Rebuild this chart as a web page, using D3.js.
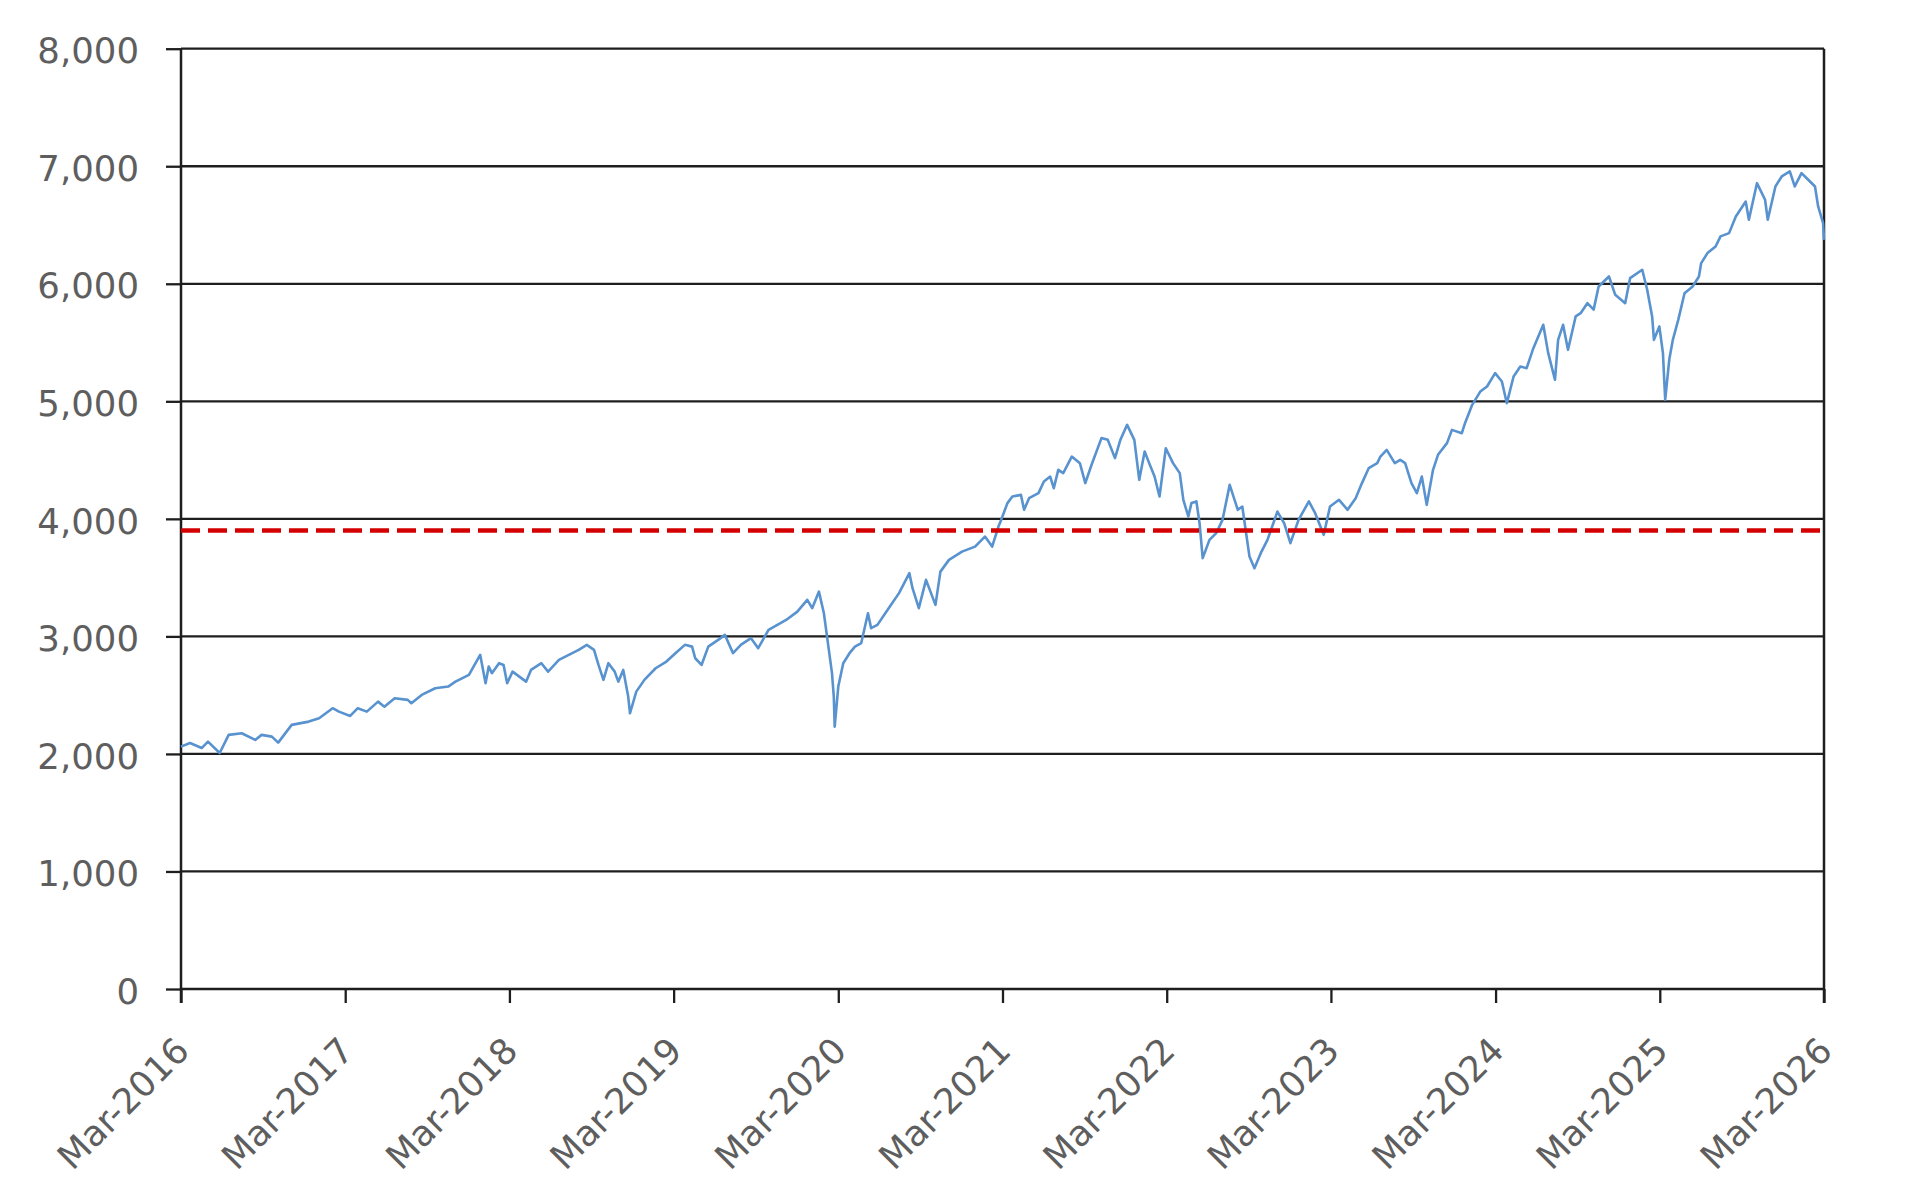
<!DOCTYPE html>
<html>
<head>
<meta charset="utf-8">
<script src="https://cdn.jsdelivr.net/npm/d3@7"></script>
<style>
  html, body { margin: 0; padding: 0; background: #ffffff; }
  svg { display: block; }
</style>
</head>
<body>
<svg id="chart" width="1918" height="1198"></svg>
<script>
// ---------------- DATA ----------------
const dates = [
  "2016-03-01","2016-03-21","2016-04-16","2016-04-30","2016-05-26","2016-06-15","2016-07-14","2016-08-13","2016-08-27","2016-09-19",
  "2016-10-03","2016-11-02","2016-12-10","2017-01-02","2017-02-01","2017-02-15","2017-03-12","2017-03-29","2017-04-18","2017-05-13",
  "2017-05-27","2017-06-19","2017-07-18","2017-07-26","2017-08-18","2017-09-17","2017-10-16","2017-11-01","2017-12-01","2017-12-26",
  "2018-01-07","2018-01-14","2018-01-21","2018-02-06","2018-02-16","2018-02-24","2018-03-08","2018-03-23","2018-04-07","2018-04-18",
  "2018-05-11","2018-05-26","2018-06-19","2018-07-11","2018-08-02","2018-08-20","2018-09-05","2018-09-15","2018-09-26","2018-10-07",
  "2018-10-21","2018-10-29","2018-11-09","2018-11-20","2018-11-24","2018-12-08","2018-12-26","2019-01-20","2019-02-13","2019-03-05",
  "2019-03-26","2019-04-11","2019-04-18","2019-05-02","2019-05-17","2019-06-08","2019-06-23","2019-07-11","2019-07-29","2019-08-20",
  "2019-09-05","2019-09-28","2019-11-06","2019-12-01","2019-12-23","2020-01-03","2020-01-18","2020-01-29","2020-02-06","2020-02-16",
  "2020-02-20","2020-02-22","2020-03-01","2020-03-12","2020-03-26","2020-04-07","2020-04-21","2020-05-06","2020-05-13","2020-05-27",
  "2020-06-21","2020-07-14","2020-08-06","2020-08-13","2020-08-27","2020-09-12","2020-10-03","2020-10-14","2020-11-02","2020-12-01",
  "2020-12-30","2021-01-21","2021-02-06","2021-02-20","2021-02-26","2021-03-12","2021-03-23","2021-04-11","2021-04-18","2021-04-29",
  "2021-05-20","2021-06-01","2021-06-15","2021-06-23","2021-07-03","2021-07-14","2021-08-02","2021-08-20","2021-09-01","2021-09-15",
  "2021-10-07","2021-10-21","2021-11-06","2021-11-18","2021-12-03","2021-12-19","2021-12-30","2022-01-11","2022-01-21","2022-02-02",
  "2022-02-13","2022-02-27","2022-03-15","2022-03-30","2022-04-07","2022-04-18","2022-04-25","2022-05-06","2022-05-13","2022-05-20",
  "2022-06-04","2022-06-19","2022-07-03","2022-07-19","2022-08-06","2022-08-16","2022-09-01","2022-09-12","2022-09-26","2022-10-11",
  "2022-11-02","2022-11-17","2022-12-01","2022-12-19","2023-01-11","2023-01-25","2023-02-13","2023-02-27","2023-03-19","2023-04-07",
  "2023-04-25","2023-05-09","2023-05-24","2023-06-12","2023-06-19","2023-07-03","2023-07-21","2023-08-02","2023-08-13","2023-08-27",
  "2023-09-08","2023-09-19","2023-09-30","2023-10-14","2023-10-25","2023-11-14","2023-11-25","2023-12-17","2023-12-24","2024-01-09",
  "2024-01-27","2024-02-11","2024-02-29","2024-03-15","2024-03-26","2024-04-10","2024-04-25","2024-05-09","2024-05-24","2024-06-15",
  "2024-06-26","2024-07-11","2024-07-18","2024-07-29","2024-08-09","2024-08-26","2024-09-06","2024-09-21","2024-10-05","2024-10-16",
  "2024-11-08","2024-11-22","2024-12-14","2024-12-25","2025-01-21","2025-02-01","2025-02-12","2025-02-16","2025-02-28","2025-03-08",
  "2025-03-13","2025-03-22","2025-03-30","2025-04-11","2025-04-25","2025-05-13","2025-05-27","2025-06-01","2025-06-15","2025-07-03",
  "2025-07-14","2025-08-02","2025-08-17","2025-09-08","2025-09-15","2025-10-03","2025-10-21","2025-10-27","2025-11-13","2025-11-27",
  "2025-12-15","2025-12-26","2026-01-10","2026-01-25","2026-02-09","2026-02-16","2026-02-27","2026-03-01"
];
const values = [
  2062,2093,2050,2105,2008,2162,2176,2119,2162,2147,
  2096,2247,2275,2304,2389,2360,2323,2389,2360,2445,
  2402,2474,2460,2431,2502,2559,2573,2615,2672,2843,
  2602,2743,2687,2772,2757,2602,2700,2658,2615,2715,
  2772,2700,2800,2843,2885,2928,2885,2757,2630,2772,
  2700,2615,2715,2488,2346,2530,2630,2729,2786,2857,
  2928,2913,2814,2757,2913,2970,3013,2857,2930,2985,
  2900,3055,3140,3211,3311,3240,3381,3197,2970,2687,
  2488,2232,2573,2772,2857,2913,2943,3197,3070,3098,
  3240,3368,3538,3410,3240,3481,3268,3551,3651,3721,
  3764,3849,3764,3934,3991,4134,4190,4204,4077,4176,
  4219,4318,4360,4261,4417,4389,4530,4474,4304,4460,
  4687,4672,4517,4672,4800,4672,4332,4573,4474,4360,
  4190,4601,4474,4389,4162,4020,4134,4148,3963,3666,
  3821,3878,3991,4289,4077,4105,3679,3580,3708,3821,
  4062,3963,3793,3991,4148,4048,3864,4105,4162,4077,
  4176,4304,4431,4474,4530,4587,4474,4502,4474,4304,
  4219,4360,4119,4417,4545,4644,4757,4729,4814,4970,
  5083,5126,5240,5169,4984,5211,5296,5282,5452,5651,
  5410,5183,5523,5651,5438,5722,5750,5835,5780,5977,
  6062,5906,5835,6048,6119,5949,5722,5523,5637,5410,
  5013,5353,5523,5693,5920,5977,6062,6176,6261,6317,
  6403,6431,6573,6700,6545,6856,6715,6545,6828,6913,
  6956,6828,6942,6885,6828,6658,6516,6374
];
const yTickValues = [0, 1000, 2000, 3000, 4000, 5000, 6000, 7000, 8000];
const xTickDates = ["2016-03-01","2017-03-01","2018-03-01","2019-03-01","2020-03-01","2021-03-01",
                    "2022-03-01","2023-03-01","2024-03-01","2025-03-01","2026-03-01"];
const xTickLabels = ["Mar-2016","Mar-2017","Mar-2018","Mar-2019","Mar-2020","Mar-2021",
                     "Mar-2022","Mar-2023","Mar-2024","Mar-2025","Mar-2026"];
const referenceLevel = 3900;

// ---------------- LAYOUT ----------------
const parse = d3.timeParse("%Y-%m-%d");
const plotLeft = 181, plotRight = 1824, plotTop = 48.7, plotBottom = 989;
const labelColor = "#5e5e5e";
const gridColor = "#1e1e1e";
const fontFamily = "'DejaVu Sans', Verdana, sans-serif";
const fontSize = 35.5;

const svg = d3.select("#chart");
svg.append("rect").attr("width", 1918).attr("height", 1198).attr("fill", "#ffffff");

const x = d3.scaleTime()
  .domain([parse(xTickDates[0]), parse(xTickDates[xTickDates.length - 1])])
  .range([plotLeft, plotRight]);
const y = d3.scaleLinear().domain([0, 8000]).range([plotBottom, plotTop]);

const series = dates.map((d, i) => ({ date: parse(d), value: values[i] }));

// gridlines
svg.append("g").selectAll("line").data(yTickValues).join("line")
  .attr("x1", plotLeft).attr("x2", plotRight)
  .attr("y1", d => y(d)).attr("y2", d => y(d))
  .attr("stroke", gridColor).attr("stroke-width", 2.3);

// y axis
const yAxis = svg.append("g").attr("transform", `translate(${plotLeft},0)`)
  .call(d3.axisLeft(y).tickValues(yTickValues).tickSize(15).tickPadding(27)
    .tickFormat(d3.format(",")));
yAxis.select(".domain").remove();
yAxis.selectAll(".tick line").attr("stroke", gridColor).attr("stroke-width", 2.3);
yAxis.selectAll(".tick text")
  .attr("fill", labelColor).attr("dy", "0.4em")
  .style("font-family", fontFamily).style("font-size", fontSize + "px");

// x axis
const xLabelMap = new Map(xTickDates.map((d, i) => [+parse(d), xTickLabels[i]]));
const xAxis = svg.append("g").attr("transform", `translate(0,${plotBottom})`)
  .call(d3.axisBottom(x).tickValues(xTickDates.map(parse)).tickSize(14)
    .tickFormat(d => xLabelMap.get(+d)));
xAxis.select(".domain").remove();
xAxis.selectAll(".tick line").attr("stroke", gridColor).attr("stroke-width", 2.3);
xAxis.selectAll(".tick text")
  .attr("x", 0).attr("y", 0).attr("dy", "0.35em")
  .attr("text-anchor", "end")
  .attr("transform", "translate(1,55) rotate(-45)")
  .attr("fill", labelColor)
  .style("font-family", fontFamily).style("font-size", fontSize + "px");

// left axis line and right border
svg.append("line").attr("x1", plotLeft).attr("x2", plotLeft).attr("y1", plotTop).attr("y2", plotBottom + 14)
  .attr("stroke", gridColor).attr("stroke-width", 2.5);
svg.append("line").attr("x1", plotRight).attr("x2", plotRight).attr("y1", plotTop).attr("y2", plotBottom + 14)
  .attr("stroke", gridColor).attr("stroke-width", 2.5);

// data line
const line = d3.line().x(d => x(d.date)).y(d => y(d.value));
svg.append("path").datum(series)
  .attr("d", line)
  .attr("fill", "none")
  .attr("stroke", "#5892cf")
  .attr("stroke-width", 2.6)
  .attr("stroke-linejoin", "round");

// reference dashed line
svg.append("line")
  .attr("x1", plotLeft).attr("x2", plotRight)
  .attr("y1", y(referenceLevel)).attr("y2", y(referenceLevel))
  .attr("stroke", "#d40000").attr("stroke-width", 4.5)
  .attr("stroke-dasharray", "19 8");
</script>
</body>
</html>
